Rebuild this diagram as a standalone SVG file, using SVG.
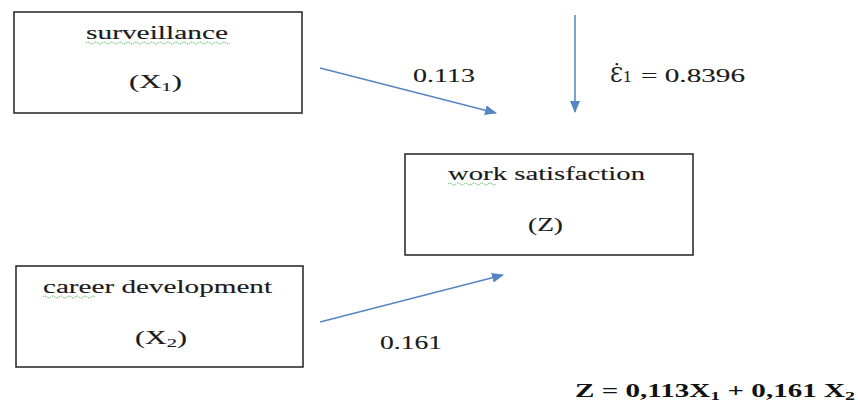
<svg xmlns="http://www.w3.org/2000/svg" width="858" height="405" viewBox="0 0 858 405">
<style>
.box{fill:#fff;stroke:#222;stroke-width:1.5}
.t{font-family:"Liberation Serif","Times New Roman",serif;font-size:19px;fill:#1a1a1a;stroke:#1a1a1a;stroke-width:0.12}
.conn{stroke:#5585c2;stroke-width:1.5;fill:none}
.sq{stroke:#4caf50;stroke-width:1;fill:none;stroke-dasharray:1.5 1}
.eq{font-family:"Liberation Serif","Times New Roman",serif;font-size:19px;font-weight:bold;fill:#111}
</style>
<defs>
<marker id="ah" markerWidth="12" markerHeight="10" refX="11" refY="5" orient="auto" markerUnits="userSpaceOnUse">
<path d="M0,0 L12,5 L0,10 Z" fill="#5585c2"/>
</marker>
</defs>
<rect width="858" height="405" fill="#fff"/>
<g id="connectors">
<line class="conn" x1="320" y1="68" x2="496" y2="113" marker-end="url(#ah)"/>
<line class="conn" x1="575" y1="15" x2="575" y2="112" marker-end="url(#ah)"/>
<line class="conn" x1="320" y1="322" x2="503" y2="275" marker-end="url(#ah)"/>
</g>
<g id="surveillance">
<rect class="box" x="14" y="12" width="288" height="101"/>
<text class="t" x="86" y="39" textLength="142" lengthAdjust="spacingAndGlyphs">surveillance</text>
<path class="sq" d="M86,43 q2,-2 4,0 t4,0 t4,0 t4,0 t4,0 t4,0 t4,0 t4,0 t4,0 t4,0 t4,0 t4,0 t4,0 t4,0 t4,0 t4,0 t4,0 t4,0 t4,0 t4,0 t4,0 t4,0 t4,0 t4,0 t4,0 t4,0 t4,0 t4,0 t4,0 t4,0 t4,0 t4,0 t4,0 t4,0 t4,0 t4,0"/>
<text class="t" x="129" y="88" textLength="53" lengthAdjust="spacingAndGlyphs">(X<tspan font-size="13" dy="3">1</tspan><tspan dy="-3">)</tspan></text>
</g>
<g id="work-satisfaction">
<rect class="box" x="405" y="154" width="288" height="101"/>
<text class="t" x="448" y="180" textLength="197" lengthAdjust="spacingAndGlyphs">work satisfaction</text>
<path class="sq" d="M448,184 q2,-2 4,0 t4,0 t4,0 t4,0 t4,0 t4,0 t4,0 t4,0 t4,0 t4,0 t4,0 t4,0"/>
<text class="t" x="528" y="231" textLength="35" lengthAdjust="spacingAndGlyphs">(Z)</text>
</g>
<g id="career-development">
<rect class="box" x="16" y="266" width="287" height="101"/>
<text class="t" x="43" y="293" textLength="229" lengthAdjust="spacingAndGlyphs">career development</text>
<path class="sq" d="M43,297 q2,-2 4,0 t4,0 t4,0 t4,0 t4,0 t4,0 t4,0 t4,0 t4,0 t4,0 t4,0 t4,0 t4,0"/>
<text class="t" x="135" y="344" textLength="52" lengthAdjust="spacingAndGlyphs">(X<tspan font-size="13" dy="3">2</tspan><tspan dy="-3">)</tspan></text>
</g>
<g id="labels">
<text class="t" x="413" y="82" textLength="62" lengthAdjust="spacingAndGlyphs">0.113</text>
<text class="t" x="610" y="82"><tspan font-family="'DejaVu Serif',serif" font-size="21">Ɛ̇</tspan><tspan font-size="17">1</tspan></text>
<text class="t" x="641" y="82" textLength="104" lengthAdjust="spacingAndGlyphs">= 0.8396</text>
<text class="t" x="380" y="349" textLength="62" lengthAdjust="spacingAndGlyphs">0.161</text>
<text class="eq" x="575" y="397" textLength="280" lengthAdjust="spacingAndGlyphs">Z = 0,113X<tspan font-size="13" dy="3">1</tspan><tspan dy="-3"> + 0,161 X</tspan><tspan font-size="13" dy="3">2</tspan></text>
</g>
</svg>
